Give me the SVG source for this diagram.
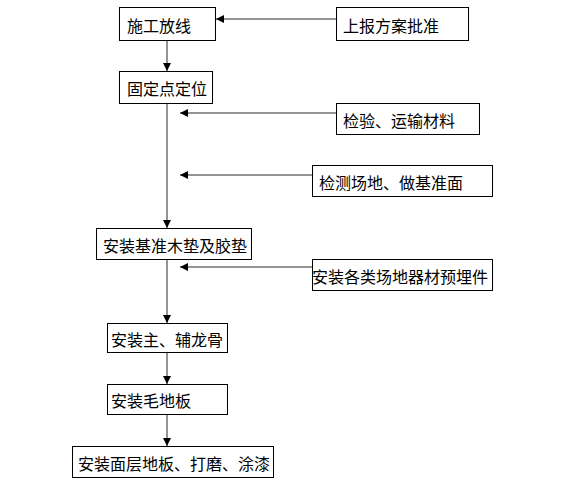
<svg xmlns="http://www.w3.org/2000/svg" width="576" height="492" viewBox="0 0 576 492">
<style>
  rect.box { fill: #ffffff; stroke: #000000; stroke-width: 1; }
  text { font-family: "Noto Sans CJK SC", "Noto Sans", sans-serif; font-size: 16px; fill: #000000; dominant-baseline: central; }
  .conn line { stroke: #707070; stroke-width: 1.5; fill: none; marker-end: url(#arr); }
</style>
<defs>
  <marker id="arr" markerUnits="userSpaceOnUse" markerWidth="9" markerHeight="8" refX="8" refY="4" orient="auto">
    <path d="M0,0 L8,4 L0,8 Z" fill="#000000"/>
  </marker>
</defs>
<rect width="576" height="492" fill="#ffffff"/>
<g id="connectors" class="conn">
  <line x1="336" y1="19" x2="216" y2="19"/>
  <line x1="167" y1="40" x2="167" y2="71"/>
  <line x1="167" y1="103" x2="167" y2="228"/>
  <line x1="336" y1="113" x2="180" y2="113"/>
  <line x1="312" y1="175" x2="180" y2="175"/>
  <line x1="167" y1="259" x2="167" y2="323"/>
  <line x1="312" y1="267" x2="180" y2="267"/>
  <line x1="167" y1="352" x2="167" y2="384"/>
  <line x1="167" y1="414" x2="167" y2="446"/>
</g>
<g id="n1"><rect class="box" x="119.5" y="7.5" width="96" height="33"/><text x="127" y="25">施工放线</text></g>
<g id="n2"><rect class="box" x="336.5" y="7.5" width="132" height="33"/><text x="343" y="25">上报方案批准</text></g>
<g id="n3"><rect class="box" x="119.5" y="71.5" width="93" height="32"/><text x="127" y="88">固定点定位</text></g>
<g id="n4"><rect class="box" x="336.5" y="103.5" width="143" height="31"/><text x="343" y="120">检验、运输材料</text></g>
<g id="n5"><rect class="box" x="312.5" y="165.5" width="180" height="31"/><text x="319" y="182">检测场地、做基准面</text></g>
<g id="n6"><rect class="box" x="96.5" y="228.5" width="155" height="31"/><text x="103" y="245">安装基准木垫及胶垫</text></g>
<g id="n7"><rect class="box" x="312.5" y="259.5" width="180" height="31"/><text x="312" y="276">安装各类场地器材预埋件</text></g>
<g id="n8"><rect class="box" x="107.5" y="323.5" width="120" height="29"/><text x="111" y="339">安装主、辅龙骨</text></g>
<g id="n9"><rect class="box" x="107.5" y="384.5" width="120" height="30"/><text x="111" y="400">安装毛地板</text></g>
<g id="n10"><rect class="box" x="72.5" y="446.5" width="201" height="31"/><text x="78" y="463">安装面层地板、打磨、涂漆</text></g>
</svg>
